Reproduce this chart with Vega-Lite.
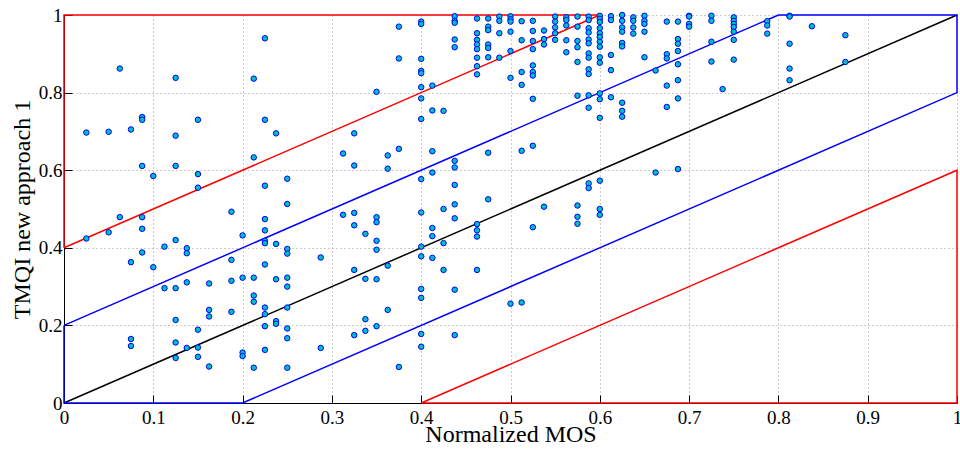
{
  "$schema": "https://vega.github.io/schema/vega-lite/v6.json",
  "width": 893,
  "height": 388,
  "autosize": "none",
  "padding": {"left": 64, "top": 15, "right": 3, "bottom": 47},
  "config": {
    "font": "Liberation Serif",
    "view": {"stroke": null},
    "axis": {
      "labelFont": "Liberation Serif",
      "titleFont": "Liberation Serif",
      "labelFontSize": 19,
      "titleFontSize": 24,
      "titleFontWeight": "normal",
      "labelColor": "#000000",
      "titleColor": "#000000",
      "domainColor": "#000000",
      "tickColor": "#000000",
      "gridColor": "#999999",
      "gridDash": [1, 3],
      "gridWidth": 1,
      "tickSize": -8,
      "labelFlush": false,
      "labelOverlap": false
    }
  },
  "datasets": {
    "pts": [
      {"mos":0.025,"tmqi":0.697},{"mos":0.05,"tmqi":0.699},{"mos":0.0625,"tmqi":0.862},{"mos":0.075,"tmqi":0.705},{"mos":0.0875,"tmqi":0.737},{"mos":0.0875,"tmqi":0.730},{"mos":0.0875,"tmqi":0.611},{"mos":0.1,"tmqi":0.585},{"mos":0.125,"tmqi":0.838},{"mos":0.125,"tmqi":0.689},{"mos":0.125,"tmqi":0.611},{"mos":0.15,"tmqi":0.730},{"mos":0.15,"tmqi":0.590},{"mos":0.15,"tmqi":0.555},{"mos":0.1875,"tmqi":0.493},{"mos":0.2125,"tmqi":0.836},{"mos":0.2125,"tmqi":0.633},{"mos":0.225,"tmqi":0.940},{"mos":0.225,"tmqi":0.730},{"mos":0.225,"tmqi":0.560},{"mos":0.2375,"tmqi":0.695},{"mos":0.25,"tmqi":0.578},{"mos":0.25,"tmqi":0.513},{"mos":0.0625,"tmqi":0.479},{"mos":0.0875,"tmqi":0.479},{"mos":0.225,"tmqi":0.474},
      {"mos":0.025,"tmqi":0.424},{"mos":0.05,"tmqi":0.440},{"mos":0.0875,"tmqi":0.449},{"mos":0.0875,"tmqi":0.388},{"mos":0.075,"tmqi":0.363},{"mos":0.1,"tmqi":0.350},{"mos":0.1125,"tmqi":0.403},{"mos":0.1125,"tmqi":0.296},{"mos":0.125,"tmqi":0.420},{"mos":0.125,"tmqi":0.296},{"mos":0.125,"tmqi":0.214},{"mos":0.125,"tmqi":0.156},{"mos":0.125,"tmqi":0.116},{"mos":0.1375,"tmqi":0.399},{"mos":0.1375,"tmqi":0.386},{"mos":0.1375,"tmqi":0.311},{"mos":0.1375,"tmqi":0.142},{"mos":0.15,"tmqi":0.189},{"mos":0.15,"tmqi":0.143},{"mos":0.15,"tmqi":0.119},{"mos":0.1625,"tmqi":0.308},{"mos":0.1625,"tmqi":0.240},{"mos":0.1625,"tmqi":0.223},{"mos":0.1625,"tmqi":0.094},{"mos":0.1875,"tmqi":0.369},{"mos":0.1875,"tmqi":0.315},{"mos":0.1875,"tmqi":0.235},{"mos":0.2,"tmqi":0.432},{"mos":0.2,"tmqi":0.323},{"mos":0.2,"tmqi":0.130},{"mos":0.2,"tmqi":0.121},{"mos":0.2125,"tmqi":0.323},{"mos":0.2125,"tmqi":0.277},{"mos":0.2125,"tmqi":0.261},{"mos":0.2125,"tmqi":0.091},{"mos":0.225,"tmqi":0.445},{"mos":0.225,"tmqi":0.418},{"mos":0.225,"tmqi":0.412},{"mos":0.225,"tmqi":0.357},{"mos":0.225,"tmqi":0.246},{"mos":0.225,"tmqi":0.229},{"mos":0.225,"tmqi":0.198},{"mos":0.225,"tmqi":0.137},{"mos":0.2375,"tmqi":0.410},{"mos":0.2375,"tmqi":0.319},{"mos":0.2375,"tmqi":0.211},{"mos":0.2375,"tmqi":0.204},{"mos":0.25,"tmqi":0.397},{"mos":0.25,"tmqi":0.385},{"mos":0.25,"tmqi":0.323},{"mos":0.25,"tmqi":0.300},{"mos":0.25,"tmqi":0.246},{"mos":0.25,"tmqi":0.192},{"mos":0.25,"tmqi":0.167},{"mos":0.25,"tmqi":0.091},{"mos":0.075,"tmqi":0.165},{"mos":0.075,"tmqi":0.147},{"mos":0.2875,"tmqi":0.375},{"mos":0.2875,"tmqi":0.142},
      {"mos":0.375,"tmqi":0.970},{"mos":0.375,"tmqi":0.888},{"mos":0.35,"tmqi":0.802},{"mos":0.4,"tmqi":0.983},{"mos":0.4,"tmqi":0.977},{"mos":0.4,"tmqi":0.887},{"mos":0.4,"tmqi":0.856},{"mos":0.4,"tmqi":0.850},{"mos":0.4,"tmqi":0.814},{"mos":0.4,"tmqi":0.785},{"mos":0.4,"tmqi":0.732},{"mos":0.4125,"tmqi":0.818},{"mos":0.4125,"tmqi":0.754},{"mos":0.425,"tmqi":0.753},{"mos":0.4375,"tmqi":0.997},{"mos":0.4375,"tmqi":0.985},{"mos":0.4375,"tmqi":0.980},{"mos":0.4375,"tmqi":0.937},{"mos":0.4375,"tmqi":0.917},
      {"mos":0.4625,"tmqi":0.991},{"mos":0.4625,"tmqi":0.953},{"mos":0.4625,"tmqi":0.936},{"mos":0.4625,"tmqi":0.924},{"mos":0.4625,"tmqi":0.912},{"mos":0.4625,"tmqi":0.890},{"mos":0.4625,"tmqi":0.868},{"mos":0.4625,"tmqi":0.847},
      {"mos":0.475,"tmqi":0.991},{"mos":0.475,"tmqi":0.970},{"mos":0.475,"tmqi":0.961},{"mos":0.475,"tmqi":0.924},{"mos":0.475,"tmqi":0.915},{"mos":0.475,"tmqi":0.891},
      {"mos":0.4875,"tmqi":0.996},{"mos":0.4875,"tmqi":0.985},{"mos":0.4875,"tmqi":0.953},{"mos":0.4875,"tmqi":0.890},
      {"mos":0.5,"tmqi":0.997},{"mos":0.5,"tmqi":0.989},{"mos":0.5,"tmqi":0.983},{"mos":0.5,"tmqi":0.957},{"mos":0.5,"tmqi":0.907},{"mos":0.5,"tmqi":0.838},
      {"mos":0.5125,"tmqi":0.984},{"mos":0.5125,"tmqi":0.935},{"mos":0.5125,"tmqi":0.853},{"mos":0.5125,"tmqi":0.820},
      {"mos":0.525,"tmqi":0.985},{"mos":0.525,"tmqi":0.959},{"mos":0.525,"tmqi":0.933},{"mos":0.525,"tmqi":0.912},{"mos":0.525,"tmqi":0.870},{"mos":0.525,"tmqi":0.853},{"mos":0.525,"tmqi":0.844},{"mos":0.525,"tmqi":0.784},
      {"mos":0.5375,"tmqi":0.960},{"mos":0.5375,"tmqi":0.938},{"mos":0.5375,"tmqi":0.924},
      {"mos":0.55,"tmqi":0.996},{"mos":0.55,"tmqi":0.983},{"mos":0.55,"tmqi":0.968},{"mos":0.55,"tmqi":0.953},{"mos":0.55,"tmqi":0.936},
      {"mos":0.5625,"tmqi":0.994},{"mos":0.5625,"tmqi":0.987},{"mos":0.5625,"tmqi":0.973},{"mos":0.5625,"tmqi":0.935},{"mos":0.5625,"tmqi":0.904},
      {"mos":0.575,"tmqi":0.996},{"mos":0.575,"tmqi":0.970},{"mos":0.575,"tmqi":0.933},{"mos":0.575,"tmqi":0.917},{"mos":0.575,"tmqi":0.879},{"mos":0.575,"tmqi":0.792},
      {"mos":0.5875,"tmqi":0.996},{"mos":0.5875,"tmqi":0.987},{"mos":0.5875,"tmqi":0.966},{"mos":0.5875,"tmqi":0.955},{"mos":0.5875,"tmqi":0.937},{"mos":0.5875,"tmqi":0.927},{"mos":0.5875,"tmqi":0.901},{"mos":0.5875,"tmqi":0.890},{"mos":0.5875,"tmqi":0.860},{"mos":0.5875,"tmqi":0.848},{"mos":0.5875,"tmqi":0.793},{"mos":0.5875,"tmqi":0.761},
      {"mos":0.6,"tmqi":0.998},{"mos":0.6,"tmqi":0.990},{"mos":0.6,"tmqi":0.982},{"mos":0.6,"tmqi":0.966},{"mos":0.6,"tmqi":0.953},{"mos":0.6,"tmqi":0.943},{"mos":0.6,"tmqi":0.931},{"mos":0.6,"tmqi":0.918},{"mos":0.6,"tmqi":0.891},{"mos":0.6,"tmqi":0.877},{"mos":0.6,"tmqi":0.798},{"mos":0.6,"tmqi":0.783},{"mos":0.6,"tmqi":0.735},
      {"mos":0.6125,"tmqi":0.997},{"mos":0.6125,"tmqi":0.987},{"mos":0.6125,"tmqi":0.897},{"mos":0.6125,"tmqi":0.858},{"mos":0.6125,"tmqi":0.788},
      {"mos":0.625,"tmqi":1.0},{"mos":0.625,"tmqi":0.985},{"mos":0.625,"tmqi":0.968},{"mos":0.625,"tmqi":0.957},{"mos":0.625,"tmqi":0.928},{"mos":0.625,"tmqi":0.919},{"mos":0.625,"tmqi":0.774},{"mos":0.625,"tmqi":0.753},{"mos":0.625,"tmqi":0.738},
      {"mos":0.6375,"tmqi":0.994},{"mos":0.6375,"tmqi":0.985},{"mos":0.6375,"tmqi":0.968},{"mos":0.6375,"tmqi":0.952},
      {"mos":0.325,"tmqi":0.695},{"mos":0.3125,"tmqi":0.643},{"mos":0.325,"tmqi":0.612},{"mos":0.3625,"tmqi":0.638},{"mos":0.3625,"tmqi":0.604},{"mos":0.375,"tmqi":0.655},{"mos":0.4125,"tmqi":0.649},{"mos":0.4,"tmqi":0.577},{"mos":0.4125,"tmqi":0.594},{"mos":0.4375,"tmqi":0.624},{"mos":0.4375,"tmqi":0.607},{"mos":0.4375,"tmqi":0.562},{"mos":0.4375,"tmqi":0.512},{"mos":0.4375,"tmqi":0.476},{"mos":0.475,"tmqi":0.645},{"mos":0.475,"tmqi":0.525},{"mos":0.5125,"tmqi":0.650},{"mos":0.525,"tmqi":0.663},{"mos":0.5375,"tmqi":0.506},{"mos":0.575,"tmqi":0.509},{"mos":0.575,"tmqi":0.480},{"mos":0.5875,"tmqi":0.566},{"mos":0.5875,"tmqi":0.554},{"mos":0.6,"tmqi":0.573},{"mos":0.6,"tmqi":0.500},{"mos":0.6,"tmqi":0.485},{"mos":0.3125,"tmqi":0.485},{"mos":0.325,"tmqi":0.490},{"mos":0.35,"tmqi":0.479},{"mos":0.4,"tmqi":0.491},{"mos":0.425,"tmqi":0.500},
      {"mos":0.325,"tmqi":0.458},{"mos":0.35,"tmqi":0.466},{"mos":0.3375,"tmqi":0.436},{"mos":0.35,"tmqi":0.418},{"mos":0.35,"tmqi":0.395},{"mos":0.3625,"tmqi":0.354},{"mos":0.325,"tmqi":0.343},{"mos":0.3375,"tmqi":0.320},{"mos":0.35,"tmqi":0.319},{"mos":0.4,"tmqi":0.403},{"mos":0.4,"tmqi":0.378},{"mos":0.4125,"tmqi":0.451},{"mos":0.4125,"tmqi":0.430},{"mos":0.4125,"tmqi":0.374},{"mos":0.425,"tmqi":0.412},{"mos":0.425,"tmqi":0.343},{"mos":0.4625,"tmqi":0.461},{"mos":0.4625,"tmqi":0.445},{"mos":0.4625,"tmqi":0.429},{"mos":0.4625,"tmqi":0.343},{"mos":0.525,"tmqi":0.453},{"mos":0.575,"tmqi":0.462},{"mos":0.4,"tmqi":0.294},{"mos":0.4,"tmqi":0.271},{"mos":0.4375,"tmqi":0.292},{"mos":0.5,"tmqi":0.256},{"mos":0.5125,"tmqi":0.259},{"mos":0.3625,"tmqi":0.240},{"mos":0.3375,"tmqi":0.216},{"mos":0.3375,"tmqi":0.186},{"mos":0.35,"tmqi":0.198},{"mos":0.325,"tmqi":0.175},{"mos":0.4,"tmqi":0.178},{"mos":0.4,"tmqi":0.145},{"mos":0.4375,"tmqi":0.175},{"mos":0.375,"tmqi":0.093},
      {"mos":0.65,"tmqi":0.998},{"mos":0.65,"tmqi":0.985},{"mos":0.65,"tmqi":0.977},{"mos":0.65,"tmqi":0.957},{"mos":0.65,"tmqi":0.891},{"mos":0.6625,"tmqi":0.857},{"mos":0.6625,"tmqi":0.594},{"mos":0.675,"tmqi":0.983},{"mos":0.675,"tmqi":0.899},{"mos":0.675,"tmqi":0.888},{"mos":0.675,"tmqi":0.818},{"mos":0.675,"tmqi":0.763},{"mos":0.6875,"tmqi":0.983},{"mos":0.6875,"tmqi":0.938},{"mos":0.6875,"tmqi":0.926},{"mos":0.6875,"tmqi":0.907},{"mos":0.6875,"tmqi":0.873},{"mos":0.6875,"tmqi":0.832},{"mos":0.6875,"tmqi":0.785},{"mos":0.6875,"tmqi":0.603},{"mos":0.7,"tmqi":0.998},{"mos":0.7,"tmqi":0.996},{"mos":0.7,"tmqi":0.977},{"mos":0.7,"tmqi":0.970},{"mos":0.725,"tmqi":0.998},{"mos":0.725,"tmqi":0.985},{"mos":0.725,"tmqi":0.931},{"mos":0.725,"tmqi":0.880},{"mos":0.7375,"tmqi":0.809},{"mos":0.75,"tmqi":0.994},{"mos":0.75,"tmqi":0.985},{"mos":0.75,"tmqi":0.977},{"mos":0.75,"tmqi":0.969},{"mos":0.75,"tmqi":0.957},{"mos":0.75,"tmqi":0.936},{"mos":0.75,"tmqi":0.885},{"mos":0.7875,"tmqi":0.984},{"mos":0.7875,"tmqi":0.973},{"mos":0.7875,"tmqi":0.952},{"mos":0.8125,"tmqi":0.998},{"mos":0.8125,"tmqi":0.996},{"mos":0.8125,"tmqi":0.926},{"mos":0.8125,"tmqi":0.862},{"mos":0.8125,"tmqi":0.832},{"mos":0.8375,"tmqi":0.971},{"mos":0.875,"tmqi":0.948},{"mos":0.875,"tmqi":0.879}
    ],
    "lines": [
      {"poly":"ident","band":"identity","ord":0,"mos":0,"tmqi":0},
      {"poly":"ident","band":"identity","ord":1,"mos":1,"tmqi":1},
      {"poly":"blue","band":"inner","ord":0,"mos":0,"tmqi":0.2},
      {"poly":"blue","band":"inner","ord":1,"mos":0.8,"tmqi":1},
      {"poly":"blue","band":"inner","ord":2,"mos":1,"tmqi":1},
      {"poly":"blue","band":"inner","ord":3,"mos":1,"tmqi":0.8},
      {"poly":"blue","band":"inner","ord":4,"mos":0.2,"tmqi":0},
      {"poly":"blue","band":"inner","ord":5,"mos":0,"tmqi":0},
      {"poly":"blue","band":"inner","ord":6,"mos":0,"tmqi":0.2},
      {"poly":"redup","band":"outer","ord":0,"mos":0,"tmqi":0.4},
      {"poly":"redup","band":"outer","ord":1,"mos":0.6,"tmqi":1},
      {"poly":"redup","band":"outer","ord":2,"mos":0,"tmqi":1},
      {"poly":"redup","band":"outer","ord":3,"mos":0,"tmqi":0.4},
      {"poly":"redlo","band":"outer","ord":0,"mos":0.4,"tmqi":0},
      {"poly":"redlo","band":"outer","ord":1,"mos":1,"tmqi":0.6},
      {"poly":"redlo","band":"outer","ord":2,"mos":1,"tmqi":0},
      {"poly":"redlo","band":"outer","ord":3,"mos":0.4,"tmqi":0}
    ]
  },
  "layer": [
    {
      "data": {"name": "lines"},
      "mark": {"type": "line", "strokeWidth": 1.5, "clip": false},
      "encoding": {
        "x": {"field": "mos", "type": "quantitative", "scale": {"domain": [0, 1], "nice": false},
              "axis": {"title": "Normalized MOS", "values": [0,0.1,0.2,0.3,0.4,0.5,0.6,0.7,0.8,0.9,1], "format": "~g", "labelPadding": 13, "titlePadding": -5}},
        "y": {"field": "tmqi", "type": "quantitative", "scale": {"domain": [0, 1], "nice": false},
              "axis": {"title": "TMQI new approach 1", "values": [0,0.2,0.4,0.6,0.8,1], "format": "~g", "labelPadding": 10, "titlePadding": 4}},
        "detail": {"field": "poly"},
        "order": {"field": "ord", "type": "quantitative"},
        "color": {"field": "band", "type": "nominal", "scale": {"domain": ["identity", "inner", "outer"], "range": ["#000000", "#0000ff", "#ff0000"]}, "legend": null}
      }
    },
    {
      "data": {"name": "pts"},
      "mark": {"type": "point", "shape": "circle", "filled": true, "size": 30, "fill": "#00bfbf", "stroke": "#0000ff", "strokeWidth": 1, "opacity": 1},
      "encoding": {
        "x": {"field": "mos", "type": "quantitative"},
        "y": {"field": "tmqi", "type": "quantitative"}
      }
    }
  ]
}
